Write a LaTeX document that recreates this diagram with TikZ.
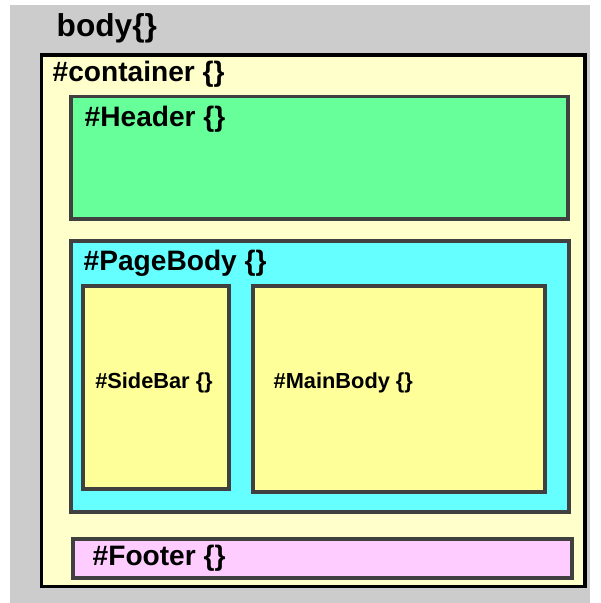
\documentclass[tikz,border=0pt]{standalone}
\usepackage{fontspec}
\setmainfont{Liberation Sans}
\definecolor{bodygray}{HTML}{CCCCCC}
\definecolor{contfill}{HTML}{FFFFCC}
\definecolor{headfill}{HTML}{66FF99}
\definecolor{pagefill}{HTML}{66FFFF}
\definecolor{colfill}{HTML}{FFFF99}
\definecolor{footfill}{HTML}{FFCCFF}
\definecolor{edge}{HTML}{404040}
\tikzset{divbox/.style={draw=edge,line width=0.9pt},
  divlabel/.style={anchor=west,inner sep=0pt,font=\bfseries\fontsize{8}{9}\selectfont},
  smalllabel/.style={inner sep=0pt,font=\bfseries\fontsize{6.2}{7}\selectfont}}

\begin{document}
\begin{tikzpicture}
\useasboundingbox (0,0) rectangle (6,-6.03);
\fill[bodygray] (0.10,-0.05) rectangle (5.90,-6.03);
\node[anchor=west,inner sep=0pt,font=\bfseries\fontsize{9}{10}\selectfont] (body) at (0.56,-0.28) {body\{\}};

\draw[line width=1.1pt,fill=contfill] (0.415,-0.55) rectangle (5.85,-5.865);
\node[divlabel] (container) at (0.52,-0.74) {\#container \{\}};

\draw[divbox,fill=headfill] (0.71,-0.965) rectangle (5.68,-2.19);
\node[divlabel] (header) at (0.84,-1.19) {\#Header \{\}};

\draw[divbox,fill=pagefill] (0.71,-2.41) rectangle (5.69,-5.12);
\node[divlabel] (pagebody) at (0.83,-2.63) {\#PageBody \{\}};

\draw[divbox,fill=colfill] (0.83,-2.86) rectangle (2.29,-4.89);
\node[smalllabel] (sidebar) at (1.54,-3.83) {\#SideBar \{\}};

\draw[divbox,fill=colfill] (2.53,-2.86) rectangle (5.45,-4.92);
\node[smalllabel,anchor=west] (mainbody) at (2.73,-3.83) {\#MainBody \{\}};

\draw[divbox,fill=footfill] (0.73,-5.39) rectangle (5.72,-5.78);
\node[divlabel] (footer) at (0.92,-5.58) {\#Footer \{\}};
\end{tikzpicture}
\end{document}
